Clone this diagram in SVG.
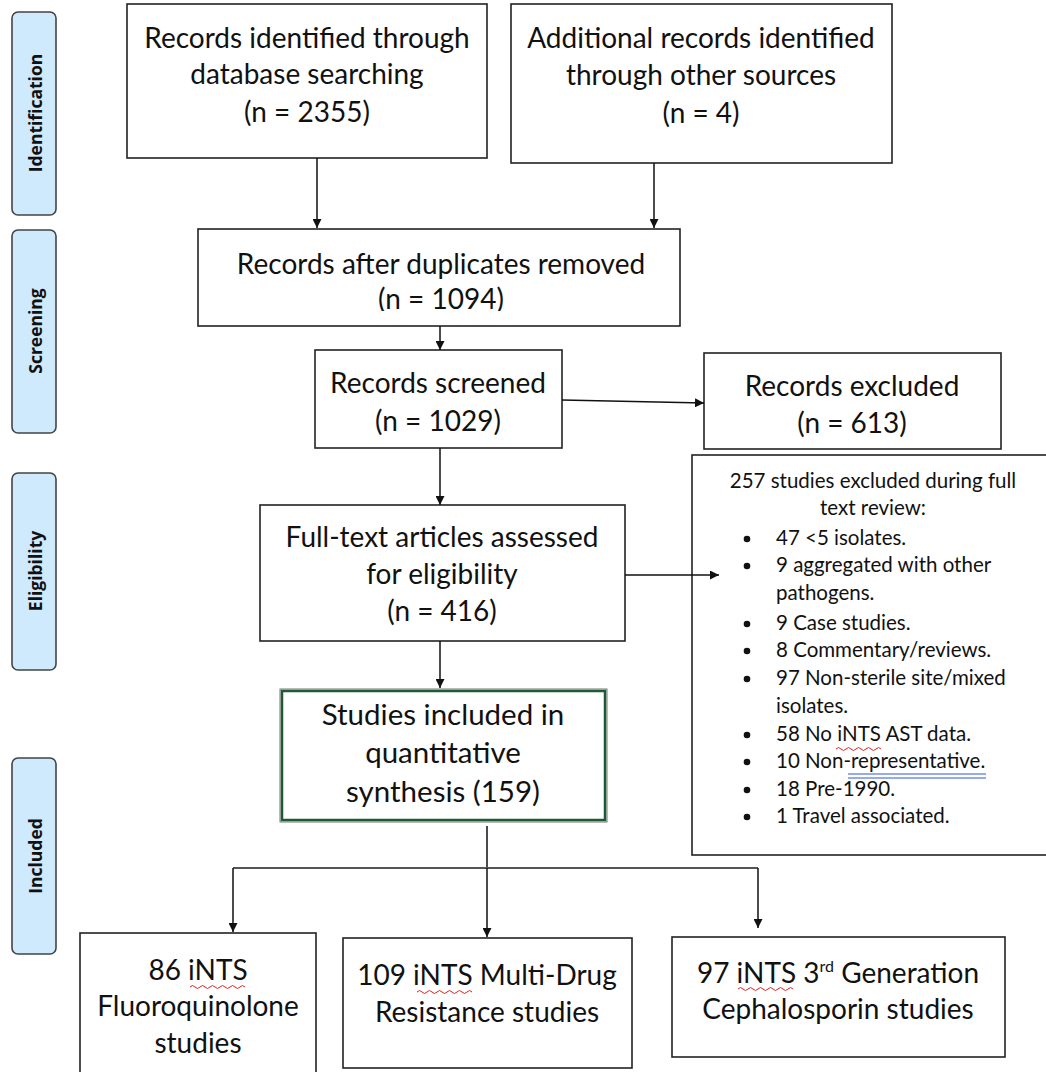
<svg xmlns="http://www.w3.org/2000/svg" width="1046" height="1072" viewBox="0 0 1046 1072">
<style>
.box{fill:#fff;stroke:#222;stroke-width:1.6}
.tab{fill:#cfe9fd;stroke:#444;stroke-width:1.6}
.tabt{font-family:"Open Sans","Liberation Sans",sans-serif;font-weight:bold;font-size:17.5px;fill:#111;text-anchor:middle}
.t{font-family:Lato,"Liberation Sans",sans-serif;font-size:28px;fill:#111;text-anchor:middle}
.tg{font-family:Lato,"Liberation Sans",sans-serif;font-size:29.5px;fill:#111;text-anchor:middle}
.s{font-family:Lato,"Liberation Sans",sans-serif;font-size:20.5px;fill:#111}
.ln{fill:none;stroke:#111;stroke-width:1.5}
.sq{fill:none;stroke:#e02020;stroke-width:1}
.bl{fill:none;stroke:#2a5bd7;stroke-width:1.2}
</style>
<defs>
<marker id="ah" viewBox="0 0 10 10" refX="10" refY="5" markerWidth="9" markerHeight="9" markerUnits="userSpaceOnUse" orient="auto">
<path d="M0,0 L10,5 L0,10 Z" fill="#111"/>
</marker>
<clipPath id="clip3"><rect x="190" y="220" width="500" height="91"/></clipPath>
</defs>
<rect width="1046" height="1072" fill="#fff"/>

<g id="tab-identification"><rect class="tab" x="12" y="12" width="44" height="203" rx="6"/><text class="tabt" transform="translate(42,113) rotate(-90)">Identification</text></g>
<g id="tab-screening"><rect class="tab" x="12" y="230" width="44" height="203" rx="6"/><text class="tabt" transform="translate(42,331) rotate(-90)">Screening</text></g>
<g id="tab-eligibility"><rect class="tab" x="12" y="473" width="44" height="197" rx="6"/><text class="tabt" transform="translate(42,571) rotate(-90)">Eligibility</text></g>
<g id="tab-included"><rect class="tab" x="12" y="758" width="44" height="196" rx="6"/><text class="tabt" transform="translate(42,856) rotate(-90)">Included</text></g>

<g id="n-database"><rect class="box" x="127" y="4" width="360" height="154"/>
<text class="t" x="307" y="48">Records identified through</text>
<text class="t" x="307" y="84">database searching</text>
<text class="t" x="307" y="122">(n = 2355)</text></g>

<g id="n-other"><rect class="box" x="511" y="4" width="381" height="159"/>
<text class="t" x="701" y="48">Additional records identified</text>
<text class="t" x="701" y="85">through other sources</text>
<text class="t" x="701" y="123">(n = 4)</text></g>

<g id="n-duplicates"><rect class="box" x="198" y="229" width="482" height="97"/>
<g clip-path="url(#clip3)">
<text class="t" x="441" y="274">Records after duplicates removed</text>
<text class="t" x="441" y="309">(n = 1094)</text></g></g>

<g id="n-screened"><rect class="box" x="315" y="350" width="247" height="98"/>
<text class="t" x="438" y="393">Records screened</text>
<text class="t" x="438" y="431">(n = 1029)</text></g>

<g id="n-excluded"><rect class="box" x="704" y="353" width="297" height="96"/>
<text class="t" x="852" y="396">Records excluded</text>
<text class="t" x="852" y="433">(n = 613)</text></g>

<g id="n-fulltext"><rect class="box" x="260" y="505" width="365" height="136"/>
<text class="t" x="442" y="547">Full-text articles assessed</text>
<text class="t" x="442" y="584">for eligibility</text>
<text class="t" x="442" y="621">(n = 416)</text></g>

<g id="n-fulltext-excluded"><rect class="box" x="692" y="455" width="360" height="400"/>
<text class="s" x="873" y="488" text-anchor="middle">257 studies excluded during full</text>
<text class="s" x="873" y="515" text-anchor="middle">text review:</text>
<g fill="#111">
<circle cx="747" cy="539" r="3.3"/><circle cx="747" cy="566" r="3.3"/><circle cx="747" cy="624" r="3.3"/><circle cx="747" cy="651" r="3.3"/><circle cx="747" cy="679" r="3.3"/><circle cx="747" cy="735" r="3.3"/><circle cx="747" cy="762" r="3.3"/><circle cx="747" cy="790" r="3.3"/><circle cx="747" cy="817" r="3.3"/>
</g>
<text class="s" x="776" y="545">47 &lt;5 isolates.</text>
<text class="s" x="776" y="572">9 aggregated with other</text>
<text class="s" x="776" y="600">pathogens.</text>
<text class="s" x="776" y="630">9 Case studies.</text>
<text class="s" x="776" y="657">8 Commentary/reviews.</text>
<text class="s" x="776" y="685">97 Non-sterile site/mixed</text>
<text class="s" x="776" y="713">isolates.</text>
<text class="s" x="776" y="741">58 No iNTS AST data.</text>
<text class="s" x="776" y="768">10 Non-representative.</text>
<text class="s" x="776" y="796">18 Pre-1990.</text>
<text class="s" x="776" y="823">1 Travel associated.</text>
<path class="sq" d="M836,749 q2.5,-3 5,0 t5,0 t5,0 t5,0 t5,0 t5,0 t5,0 t5,0 t5,0"/>
<path class="bl" d="M848,774 H986 M848,778 H986"/>
</g>

<g id="n-included"><rect x="280" y="689" width="327" height="133" fill="#fff" stroke="#777" stroke-width="1"/>
<rect x="282" y="691" width="323" height="129" fill="none" stroke="#1f5a32" stroke-width="2.5"/>
<text class="tg" x="443" y="725">Studies included in</text>
<text class="tg" x="443" y="763">quantitative</text>
<text class="tg" x="443" y="802">synthesis (159)</text></g>

<g id="n-fluoro"><rect class="box" x="80" y="933" width="236" height="150"/>
<text class="t" x="198" y="980">86 iNTS</text>
<text class="t" x="198" y="1016">Fluoroquinolone</text>
<text class="t" x="198" y="1053">studies</text>
<path class="sq" d="M190,987 q2.5,-3 5,0 t5,0 t5,0 t5,0 t5,0 t5,0 t5,0 t5,0 t5,0 t5,0 t5,0"/></g>

<g id="n-mdr"><rect class="box" x="343" y="938" width="289" height="130"/>
<text class="t" x="487" y="985">109 iNTS Multi-Drug</text>
<text class="t" x="487" y="1022">Resistance studies</text>
<path class="sq" d="M417,992 q2.5,-3 5,0 t5,0 t5,0 t5,0 t5,0 t5,0 t5,0 t5,0 t5,0 t5,0 t5,0"/></g>

<g id="n-ceph"><rect class="box" x="672" y="937" width="333" height="120"/>
<text class="t" x="838" y="983">97 iNTS 3<tspan font-size="16" dy="-11">rd</tspan><tspan dy="11"> Generation</tspan></text>
<text class="t" x="838" y="1019">Cephalosporin studies</text>
<path class="sq" d="M738,989 q2.5,-3 5,0 t5,0 t5,0 t5,0 t5,0 t5,0 t5,0 t5,0 t5,0 t5,0 t5,0"/></g>

<g id="connectors">
<path class="ln" d="M317,158 V228" marker-end="url(#ah)"/>
<path class="ln" d="M654,163 V228" marker-end="url(#ah)"/>
<path class="ln" d="M440,326 V350" marker-end="url(#ah)"/>
<path class="ln" d="M562,400 L704,403" marker-end="url(#ah)"/>
<path class="ln" d="M440,448 V505" marker-end="url(#ah)"/>
<path class="ln" d="M625,575 H719" marker-end="url(#ah)"/>
<path class="ln" d="M440,641 V688" marker-end="url(#ah)"/>
<path class="ln" d="M487,826 V868"/>
<path class="ln" d="M233,868 H758" style="stroke:#555;stroke-width:2"/>
<path class="ln" d="M233,868 V932" marker-end="url(#ah)"/>
<path class="ln" d="M487,868 V937" marker-end="url(#ah)"/>
<path class="ln" d="M758,868 V928" marker-end="url(#ah)"/>
</g>
</svg>
